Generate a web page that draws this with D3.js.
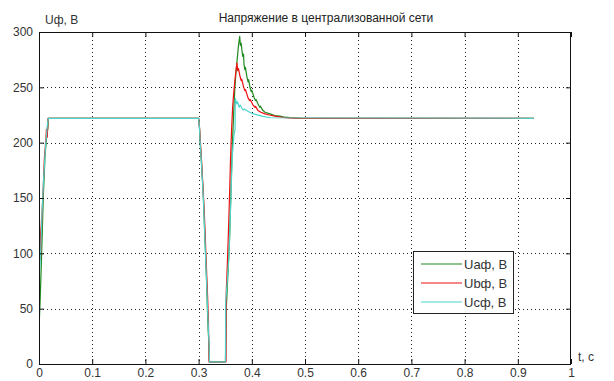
<!DOCTYPE html>
<html>
<head>
<meta charset="utf-8">
<script src="https://cdn.jsdelivr.net/npm/d3@7"></script>
<style>
  html, body { margin: 0; padding: 0; background: #fff; }
  svg { display: block; font-family: "Liberation Sans", Arial, sans-serif; }
</style>
</head>
<body>
<svg id="chart" width="614" height="381"></svg>
<script>
// Phase voltages in the centralized grid: time (s) and voltage (V)
const titleText = "Напряжение в централизованной сети";
const yLabelText = "Uф, B";
const xLabelText = "t, c";
const seriesNames = ["Uaф, B", "Ubф, B", "Ucф, B"];
const seriesColors = ["#1f8a1f", "#ee1111", "#4dd4cc"];

const xTicks = [0, 0.1, 0.2, 0.3, 0.4, 0.5, 0.6, 0.7, 0.8, 0.9, 1];
const yTicks = [0, 50, 100, 150, 200, 250, 300];

const timeA = [0, 0.002, 0.005, 0.008, 0.0115, 0.0135, 0.015, 0.0165, 0.0175, 0.3,
  0.3015, 0.303, 0.305, 0.307, 0.309, 0.311, 0.313, 0.315, 0.3165, 0.318, 0.3195, 0.3205,
  0.3505, 0.352, 0.355, 0.358, 0.3605, 0.363, 0.3655, 0.368, 0.370, 0.3725, 0.375, 0.3773,
  0.3785, 0.380, 0.3816, 0.383, 0.3845, 0.3853, 0.387, 0.388, 0.391, 0.393, 0.394, 0.3966,
  0.399, 0.400, 0.4041, 0.407, 0.408, 0.4117, 0.415, 0.416, 0.421, 0.425, 0.4342, 0.443,
  0.453, 0.462, 0.4718, 0.49, 0.93];
const voltA = [33, 55, 100, 150, 190, 200, 210, 212, 222, 222,
  215, 200, 185, 168, 150, 125, 100, 75, 50, 30, 18, 2,
  2, 50, 80, 110, 150, 192, 222, 248, 262, 275, 288, 296,
  288, 290, 283, 278, 280, 271, 266, 268, 259, 255, 257, 250,
  246, 247.5, 241, 238, 239, 235, 232, 233, 229, 227.5, 226, 224.5,
  224, 223, 222.6, 222.2, 222];

const timeB = [0, 0.002, 0.003, 0.005, 0.008, 0.010, 0.0125, 0.014, 0.0155, 0.017, 0.3,
  0.302, 0.304, 0.306, 0.308, 0.310, 0.312, 0.314, 0.3155, 0.317, 0.3185, 0.3195,
  0.3515, 0.352, 0.354, 0.356, 0.358, 0.360, 0.362, 0.364, 0.366, 0.368, 0.370, 0.372,
  0.3735, 0.375, 0.3778, 0.380, 0.381, 0.3848, 0.387, 0.388, 0.3929, 0.396, 0.397, 0.4023,
  0.406, 0.407, 0.4117, 0.417, 0.4248, 0.433, 0.4436, 0.4624, 0.48, 0.93];
const voltB = [140, 120, 95, 128, 160, 185, 200, 212, 205, 222, 222,
  212, 196, 180, 162, 144, 122, 96, 78, 60, 40, 2,
  2, 65, 90, 118, 150, 185, 212, 232, 245, 255, 264, 272,
  265, 267, 260, 256, 257.5, 250, 247, 248, 240.5, 238, 239, 234,
  232, 232.8, 229, 227.5, 226, 225, 224, 222.5, 222.2, 222];

const timeC = [0, 0.003, 0.006, 0.009, 0.012, 0.0155, 0.0175, 0.3,
  0.3015, 0.303, 0.305, 0.307, 0.309, 0.311, 0.313, 0.315, 0.317, 0.3195, 0.3205,
  0.3505, 0.351, 0.354, 0.357, 0.360, 0.363, 0.366, 0.3685, 0.369,
  0.3715, 0.373, 0.3765, 0.378, 0.3816, 0.384, 0.386, 0.3942, 0.400, 0.4066, 0.4192,
  0.4342, 0.93];
const voltC = [75, 100, 140, 170, 195, 215, 222, 222,
  214, 200, 184, 167, 149, 124, 99, 74, 48, 20, 2,
  2, 57, 75, 98, 140, 185, 205, 212, 240,
  235, 237, 232, 234, 231, 229.5, 230.5, 228, 226.5, 225.5, 224,
  222.5, 222];

const seriesTimes = [timeA, timeB, timeC];
const seriesVolts = [voltA, voltB, voltC];

const svg = d3.select("#chart");
const margin = { left: 39, right: 43, top: 32, bottom: 17 };
const W = 614, H = 381;
const x0 = margin.left, x1 = W - margin.right;
const y0 = H - margin.bottom, y1 = margin.top;

const x = d3.scaleLinear().domain([0, 1]).range([x0, x1]);
const y = d3.scaleLinear().domain([0, 300]).range([y0, y1]);

// dotted grid
const grid = svg.append("g");
grid.selectAll("line.gx").data(xTicks.slice(1, -1)).join("line")
  .attr("x1", d => Math.round(x(d)) + 0.5).attr("x2", d => Math.round(x(d)) + 0.5)
  .attr("y1", y1).attr("y2", y0)
  .attr("stroke", "#222").attr("stroke-width", 1).attr("stroke-dasharray", "1,3");
grid.selectAll("line.gy").data(yTicks.slice(1, -1)).join("line")
  .attr("y1", d => Math.round(y(d)) + 0.5).attr("y2", d => Math.round(y(d)) + 0.5)
  .attr("x1", x0).attr("x2", x1)
  .attr("stroke", "#222").attr("stroke-width", 1).attr("stroke-dasharray", "1,3");

// data lines
const clip = svg.append("clipPath").attr("id", "plotclip").append("rect")
  .attr("x", x0).attr("y", y1).attr("width", x1 - x0).attr("height", y0 - y1);
const line = d3.line().x(d => x(d[0])).y(d => y(d[1]));
const lines = svg.append("g").attr("clip-path", "url(#plotclip)");
seriesTimes.forEach((ts, i) => {
  const pts = ts.map((t, j) => [t, seriesVolts[i][j]]);
  lines.append("path").datum(pts)
    .attr("d", line)
    .attr("fill", "none")
    .attr("stroke", seriesColors[i])
    .attr("stroke-width", 1.2)
    .attr("stroke-linejoin", "round");
});

// axes with inward ticks on all four sides
const tickLen = 5;
const fmtX = d => d3.format("~g")(d);
const axB = d3.axisBottom(x).tickValues(xTicks).tickSizeInner(-tickLen).tickSizeOuter(0).tickPadding(4).tickFormat(fmtX);
const axT = d3.axisTop(x).tickValues(xTicks).tickSizeInner(-tickLen).tickSizeOuter(0).tickFormat("");
const axL = d3.axisLeft(y).tickValues(yTicks).tickSizeInner(-tickLen).tickSizeOuter(0).tickPadding(6);
const axR = d3.axisRight(y).tickValues(yTicks).tickSizeInner(-tickLen).tickSizeOuter(0).tickFormat("");

function styleAxis(g) {
  g.select(".domain").remove();
  g.selectAll(".tick line").attr("stroke", "#111");
  g.selectAll("text").attr("fill", "#333").style("font-size", "12px")
    .style("font-family", "'Liberation Sans', Arial, sans-serif");
}
svg.append("g").attr("transform", `translate(0,${y0})`).call(axB).call(styleAxis);
svg.append("g").attr("transform", `translate(0,${y1})`).call(axT).call(styleAxis);
svg.append("g").attr("transform", `translate(${x0},0)`).call(axL).call(styleAxis);
svg.append("g").attr("transform", `translate(${x1},0)`).call(axR).call(styleAxis);

// plot frame
svg.append("rect").attr("x", x0 + 0.5).attr("y", y1 + 0.5)
  .attr("width", x1 - x0 - 1).attr("height", y0 - y1)
  .attr("fill", "none").attr("stroke", "#111").attr("stroke-width", 1);

// texts
svg.append("text").attr("x", 326).attr("y", 22).attr("text-anchor", "middle")
  .style("font-size", "12px").attr("fill", "#222").text(titleText);
svg.append("text").attr("x", 45).attr("y", 24)
  .style("font-size", "12px").attr("fill", "#333").text(yLabelText);
svg.append("text").attr("x", 578).attr("y", 361)
  .style("font-size", "12px").attr("fill", "#333").text(xLabelText);

// legend
const lg = svg.append("g");
lg.append("rect").attr("x", 413.5).attr("y", 251.5).attr("width", 100).attr("height", 62)
  .attr("fill", "#fff").attr("stroke", "#222").attr("stroke-width", 1);
const rowY = [264, 283, 302];
seriesNames.forEach((name, i) => {
  lg.append("line").attr("x1", 421).attr("x2", 462)
    .attr("y1", rowY[i]).attr("y2", rowY[i])
    .attr("stroke", seriesColors[i]).attr("stroke-width", 1.2);
  lg.append("text").attr("x", 464).attr("y", rowY[i] + 5)
    .style("font-size", "13px").attr("fill", "#333").text(name);
});
</script>
</body>
</html>
